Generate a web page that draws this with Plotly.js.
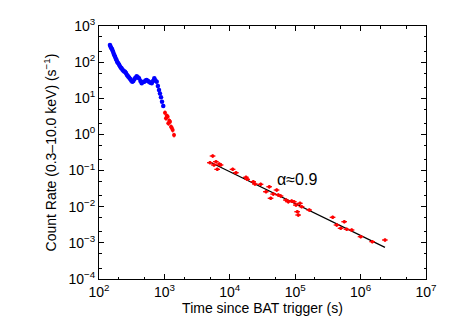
<!DOCTYPE html>
<html><head><meta charset="utf-8">
<script src="https://cdn.plot.ly/plotly-3.0.1.min.js"></script>
<style>html,body{margin:0;padding:0;background:#fff}#chart{width:451px;height:332px}</style>
</head><body><div id="chart"></div>
<script>
// Window Timing (blue)
const wtTime = [147,150,153,157,160,164,168,172,176,181,186,191,197,203,210,217,222,229,236,243,250,258,266,274,281,290,300,310,323,335,347,360,377,392,409,430,450,470,493,515,536,560,582,610,640,670,701,730,763,795,827,855,887,920,961];
const wtRate = [298,270,250,235,217,195,170,155,141,125,112,100,93,85,76,70,67,62,58,55,54,50,45,42,39.5,37,34,31,28.8,30,33.5,37,41,38,35.7,30,26,28,28.8,31,32,30,28.8,27,26,30,35.7,31,28.8,22,17,13.5,10.6,8,6.1];
// Photon Counting early (red)
const pcEarlyTime = [1021,1057,1090,1122,1147,1190,1218,1262,1300,1340,1403];
const pcEarlyRate = [4.0,2.8,3.3,3.1,2.03,2.4,2.25,1.64,1.5,1.33,0.965];
// Photon Counting late (red)
const pcTime = [4977,5478,5733,6149,6440,6909,7261,11075,12440,17700,18530,22880,24270,29650,35780,40180,42200,46240,52120,55180,60000,72300,78400,88300,95900,102800,107700,111500,118300,125600,164300,374500,431000,496600,563800,612600,730600,1004000,1511000,2361000];
const pcRate = [0.165,0.253,0.143,0.176,0.108,0.152,0.143,0.108,0.0873,0.0651,0.0573,0.0492,0.0425,0.0417,0.0260,0.0357,0.0171,0.0224,0.0290,0.0211,0.0198,0.0153,0.0137,0.0144,0.0137,0.0111,0.00727,0.00589,0.0124,0.0100,0.00811,0.00509,0.00312,0.00253,0.00385,0.00237,0.00227,0.00148,0.00108,0.0012];
const pcErrY = [25,25,25,25,25,25,25,25,25,25,25,25,25,25,28,28,30,30,28,30,30,30,30,30,30,30,35,38,30,30,30,32,35,35,35,35,35,35,30,30];
const pcErrX = [7,7,7,7,7,7,7,7,7,7,7,7,7,7,7,7,7,7,7,7,7,7,7,7,7,7,7,7,7,7,7,7,7,7,7,7,7,7,22,12];
// Power-law fit line
const fitTime = [4866, 2360000];
const fitRate = [0.176, 0.00075];
const fitLabel = 'α≈0.9';
const labelPos = [105000, 0.0573];
// Tick labels
const xTickVals = [1e2,1e3,1e4,1e5,1e6,1e7];
const xTickText = ['10<sup>2</sup>','10<sup>3</sup>','10<sup>4</sup>','10<sup>5</sup>','10<sup>6</sup>','10<sup>7</sup>'];
const yTickVals = [1e-4,1e-3,1e-2,1e-1,1e0,1e1,1e2,1e3];
const yTickText = ['10<sup>−4</sup>','10<sup>−3</sup>','10<sup>−2</sup>','10<sup>−1</sup>','10<sup>0</sup>','10<sup>1</sup>','10<sup>2</sup>','10<sup>3</sup>'];

const fam = '"Liberation Sans", Arial, sans-serif';
const font = {family:fam, size:14, color:'#000'};
const traces = [
  {x:wtTime, y:wtRate, mode:'markers', type:'scatter',
   marker:{color:'#0000ff', size:4.5}},
  {x:pcEarlyTime, y:pcEarlyRate, mode:'markers', type:'scatter',
   marker:{color:'#ff0000', size:4},
   error_y:{type:'percent', value:15, color:'#ff0000', thickness:1, width:0}},
  {x:fitTime, y:fitRate, mode:'lines', type:'scatter', line:{color:'#000', width:1.2}},
  {x:pcTime, y:pcRate, mode:'markers', type:'scatter',
   marker:{color:'#ff0000', size:3.5},
   error_y:{type:'percent', array:pcErrY, color:'#ff0000', thickness:1.3, width:0},
   error_x:{type:'percent', array:pcErrX, color:'#ff0000', thickness:1.3, width:0}}
];
const axisCommon = {type:'log', showgrid:false, zeroline:false, showline:true, linecolor:'#000', linewidth:1,
  mirror:'allticks', ticks:'inside', ticklen:5, tickcolor:'#000', tickmode:'array',
  tickfont:font,
  minor:{ticks:'inside', ticklen:2.5, tickcolor:'#000', showgrid:false}};
const layout = {
  width:451, height:332, margin:{l:99, r:25, t:26, b:53},
  paper_bgcolor:'#fff', plot_bgcolor:'#fff', showlegend:false, font:font,
  xaxis:Object.assign({}, axisCommon, {range:[2,7], tickvals:xTickVals, ticktext:xTickText,
    title:{text:'Time since BAT trigger (s)', font:{family:fam, size:14}, standoff:2}}),
  yaxis:Object.assign({}, axisCommon, {range:[-4,3], tickvals:yTickVals, ticktext:yTickText,
    title:{text:'Count Rate (0.3–10.0 keV) (s<sup>−1</sup>)', font:{family:fam, size:14}, standoff:8}}),
  annotations:[{x:Math.log10(labelPos[0]), y:Math.log10(labelPos[1]), text:fitLabel, showarrow:false,
    font:{family:fam, size:16, color:'#000'}}]
};
Plotly.newPlot('chart', traces, layout, {staticPlot:true});
</script></body></html>
